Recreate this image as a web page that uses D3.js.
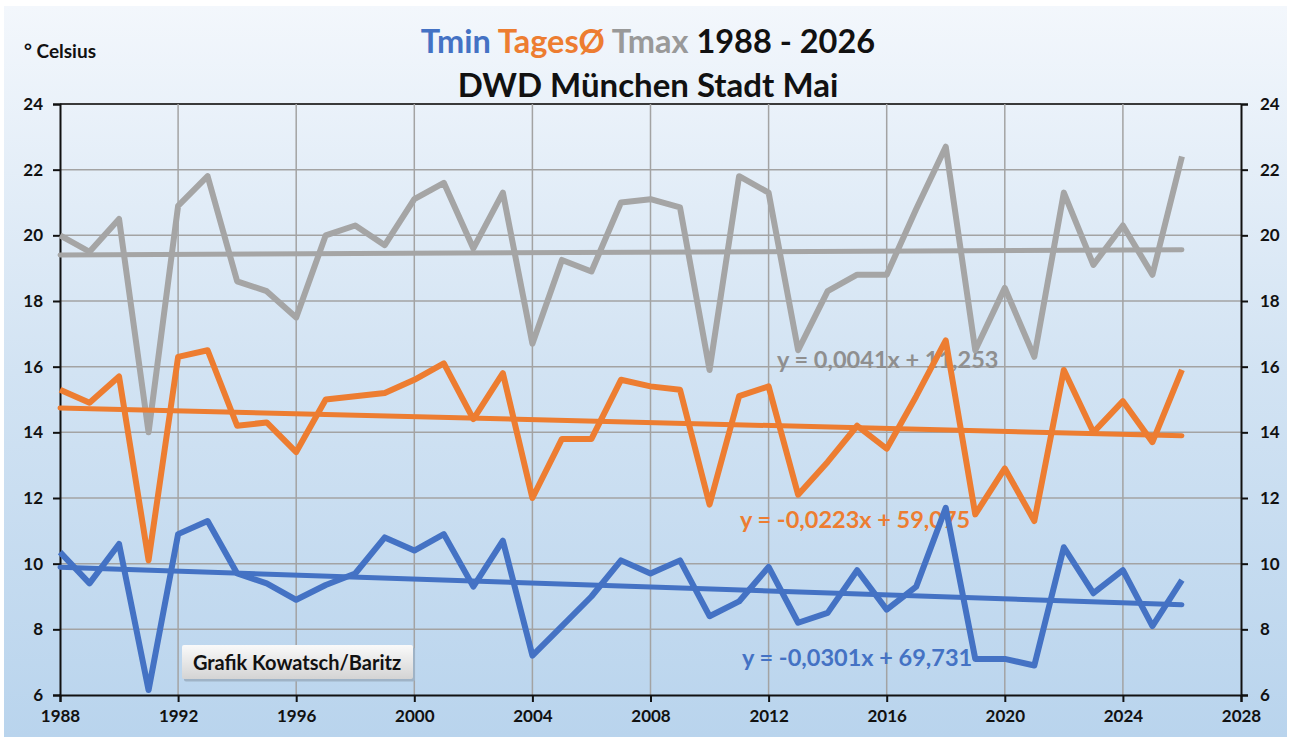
<!DOCTYPE html>
<html>
<head>
  <meta charset="utf-8">
  <title>Tmin TagesØ Tmax Mai</title>
  <script src="https://cdn.jsdelivr.net/npm/d3@7"></script>
  <style>
    body { margin: 0; background: #fff; }
    svg { display: block; font-family: Lato, "Open Sans", sans-serif; }
  </style>
</head>
<body>
<script>

// data
var years = d3.range(1988, 2027);

var tmax = [20.0, 19.5, 20.5, 14.0, 20.9, 21.8, 18.6, 18.3, 17.5, 20.0,
            20.3, 19.7, 21.1, 21.6, 19.6, 21.3, 16.7, 19.25, 18.9, 21.0,
            21.1, 20.85, 15.9, 21.8, 21.3, 16.5, 18.3, 18.8, 18.8, 20.8,
            22.7, 16.5, 18.4, 16.3, 21.3, 19.1, 20.3, 18.8, 22.4];

var tages = [15.3, 14.9, 15.7, 10.1, 16.3, 16.5, 14.2, 14.3, 13.4, 15.0,
             15.1, 15.2, 15.6, 16.1, 14.4, 15.8, 12.0, 13.8, 13.8, 15.6,
             15.4, 15.3, 11.8, 15.1, 15.4, 12.1, 13.1, 14.2, 13.5, 15.1,
             16.8, 11.5, 12.9, 11.3, 15.9, 14.0, 14.95, 13.7, 15.9];

var tmin = [10.35, 9.4, 10.6, 6.15, 10.9, 11.3, 9.7, 9.4, 8.9, 9.35,
            9.7, 10.8, 10.4, 10.9, 9.3, 10.7, 7.2, 8.1, 9.0, 10.1,
            9.7, 10.1, 8.4, 8.85, 9.9, 8.2, 8.5, 9.8, 8.6, 9.3,
            11.7, 7.1, 7.1, 6.9, 10.5, 9.1, 9.8, 8.1, 9.5];

// linear trend lines (slope, intercept) as printed in the chart
var trendSlope = [0.0041, -0.0223, -0.0301];
var trendIntercept = [11.253, 59.075, 69.731];
var trendLabels = ["y = 0,0041x + 11,253", "y = -0,0223x + 59,075", "y = -0,0301x + 69,731"];

var seriesNames = ["Tmax", "TagesØ", "Tmin"];
var seriesColors = ["#a5a5a5", "#ed7d31", "#4472c4"];
var labelColors = ["#8f8f8f", "#ed7d31", "#4472c4"];

var xTicks = d3.range(1988, 2029, 4);
var yTicks = d3.range(6, 25, 2);

var w = 1290;
var h = 742;

var svg = d3.select("body")
  .append("svg")
  .attr("width", w)
  .attr("height", h);

// blue background gradient
var defs = svg.append("defs");
var bg = defs.append("linearGradient")
  .attr("id", "bg")
  .attr("x1", 0).attr("y1", 0).attr("x2", 0).attr("y2", 1);
bg.append("stop").attr("offset", "0%").attr("stop-color", "#f3f7fc");
bg.append("stop").attr("offset", "50%").attr("stop-color", "#d2e3f3");
bg.append("stop").attr("offset", "100%").attr("stop-color", "#b9d4ed");

var box = defs.append("linearGradient")
  .attr("id", "box")
  .attr("x1", 0).attr("y1", 0).attr("x2", 0).attr("y2", 1);
box.append("stop").attr("offset", "0%").attr("stop-color", "#fafafa");
box.append("stop").attr("offset", "100%").attr("stop-color", "#d4d4d4");

svg.append("rect")
  .attr("x", 4).attr("y", 6)
  .attr("width", 1283).attr("height", 731)
  .attr("fill", "url(#bg)");

// scales
var x = d3.scaleLinear().domain([1988, 2028]).range([60, 1241]);
var y = d3.scaleLinear().domain([6, 24]).range([695, 104]);

// grid
svg.append("g")
  .selectAll("line")
  .data(yTicks.slice(1))
  .enter()
  .append("line")
  .attr("x1", x(1988)).attr("x2", x(2028))
  .attr("y1", function(d) { return y(d); })
  .attr("y2", function(d) { return y(d); })
  .attr("stroke", function(d) { return d == 24 ? "#3a3a3a" : "#a3a3a3"; })
  .attr("stroke-width", function(d) { return d == 24 ? 2 : 1.5; });

svg.append("g")
  .selectAll("line")
  .data(xTicks.slice(1, -1))
  .enter()
  .append("line")
  .attr("x1", function(d) { return x(d); })
  .attr("x2", function(d) { return x(d); })
  .attr("y1", y(24)).attr("y2", y(6))
  .attr("stroke", "#a3a3a3")
  .attr("stroke-width", 1.5);

// axes
var axisLeft = svg.append("g")
  .attr("transform", "translate(" + x(1988) + ",0)")
  .call(d3.axisLeft(y).tickValues(yTicks).tickFormat(d3.format("d")).tickSize(7).tickPadding(10));

var axisRight = svg.append("g")
  .attr("transform", "translate(" + x(2028) + ",0)")
  .call(d3.axisRight(y).tickValues(yTicks).tickFormat(d3.format("d")).tickSize(7).tickPadding(12));

var axisBottom = svg.append("g")
  .attr("transform", "translate(0," + y(6) + ")")
  .call(d3.axisBottom(x).tickValues(xTicks).tickFormat(d3.format("d")).tickSize(7).tickPadding(8));

[axisLeft, axisRight, axisBottom].forEach(function(a) {
  a.select(".domain").attr("stroke", "#111").attr("stroke-width", 2);
  a.selectAll(".tick line").attr("stroke", "#111").attr("stroke-width", 2);
  a.selectAll(".tick text")
    .attr("fill", "#111")
    .attr("font-size", "17px")
    .attr("font-weight", "bold")
    .attr("font-family", "Lato, sans-serif");
});

// equation labels (lines run over them in the original)
var labelPos = [[777, 360], [740, 520], [742, 658]];
svg.selectAll(".eq")
  .data(trendLabels)
  .enter()
  .append("text")
  .attr("class", "eq")
  .attr("x", function(d, i) { return labelPos[i][0]; })
  .attr("y", function(d, i) { return labelPos[i][1]; })
  .attr("dy", "0.35em")
  .attr("fill", function(d, i) { return labelColors[i]; })
  .attr("font-size", "23.5px")
  .attr("font-weight", "bold")
  .text(function(d) { return d; });

// series first, trend lines on top
var line = d3.line()
  .x(function(d, i) { return x(years[i]); })
  .y(function(d) { return y(d); });

var allSeries = [tmax, tages, tmin];

allSeries.forEach(function(s, k) {
  svg.append("path")
    .datum(s)
    .attr("d", line)
    .attr("fill", "none")
    .attr("stroke", seriesColors[k])
    .attr("stroke-width", 6)
    .attr("stroke-linejoin", "round");
});

allSeries.forEach(function(s, k) {
  var ends = [years[0], years[years.length - 1]];
  svg.append("line")
    .attr("x1", x(ends[0]))
    .attr("x2", x(ends[1]))
    .attr("y1", y(trendSlope[k] * ends[0] + trendIntercept[k]))
    .attr("y2", y(trendSlope[k] * ends[1] + trendIntercept[k]))
    .attr("stroke", seriesColors[k])
    .attr("stroke-width", 5)
    .attr("stroke-linecap", "round");
});

// credit box
svg.append("rect")
  .attr("x", 183).attr("y", 646)
  .attr("width", 231).attr("height", 34)
  .attr("rx", 2)
  .attr("fill", "#9fb3c6")
  .attr("transform", "translate(1,1.5)");
svg.append("rect")
  .attr("x", 182).attr("y", 645)
  .attr("width", 231).attr("height", 34)
  .attr("rx", 2)
  .attr("fill", "url(#box)");
svg.append("text")
  .attr("x", 297).attr("y", 663)
  .attr("dy", "0.35em")
  .attr("text-anchor", "middle")
  .attr("font-size", "20px")
  .attr("font-weight", "bold")
  .attr("fill", "#111")
  .text("Grafik Kowatsch/Baritz");

// titles
var title = svg.append("text")
  .attr("x", 648).attr("y", 53)
  .attr("text-anchor", "middle")
  .attr("font-size", "32.5px")
  .attr("font-weight", "bold");
var titleParts = [["Tmin ", "#4472c4"], ["TagesØ ", "#ed7d31"], ["Tmax ", "#999999"], ["1988 - 2026", "#111"]];
titleParts.forEach(function(p) {
  title.append("tspan").attr("fill", p[1]).text(p[0]);
});

svg.append("text")
  .attr("x", 648).attr("y", 97)
  .attr("text-anchor", "middle")
  .attr("font-size", "33px")
  .attr("font-weight", "bold")
  .attr("fill", "#111")
  .text("DWD München Stadt Mai");

svg.append("text")
  .attr("x", 24).attr("y", 58)
  .attr("font-size", "19px")
  .attr("font-weight", "bold")
  .attr("fill", "#111")
  .text("° Celsius");

</script>
</body>
</html>
